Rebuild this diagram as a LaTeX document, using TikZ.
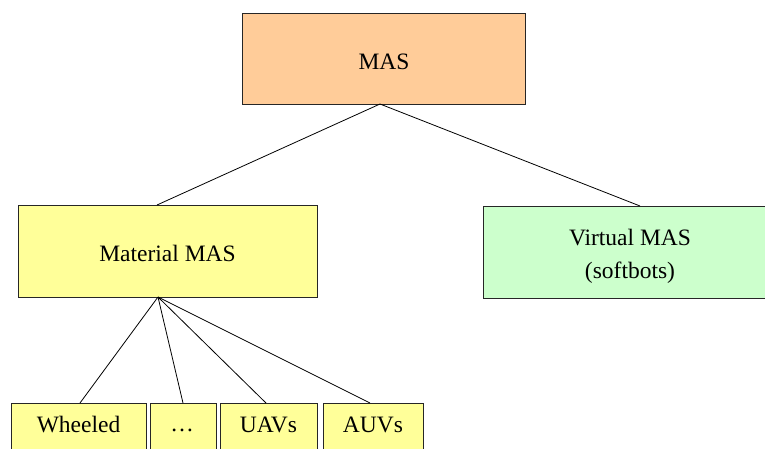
\documentclass[tikz,border=0pt]{standalone}
\usepackage{fontspec}
\setmainfont{Liberation Serif}
\begin{document}
\begin{tikzpicture}[x=1pt,y=-1pt,
  box/.style={draw=black!85,line width=0.9pt,inner sep=0pt},
  txt/.style={font=\fontsize{23.5}{28}\selectfont,align=center},
  link/.style={draw=black,line width=0.8pt}]
\definecolor{masfill}{HTML}{FFCC99}
\definecolor{matfill}{HTML}{FFFF99}
\definecolor{virtfill}{HTML}{CCFFCC}
\useasboundingbox (0,0) rectangle (765,448);
\clip (0,0) rectangle (765,448);
% boxes
\draw[box,fill=masfill] (242,13) rectangle (525,104);
\draw[box,fill=matfill] (18,205) rectangle (317,297);
\draw[box,fill=virtfill] (483,206) rectangle (767,298);
\draw[box,fill=matfill] (11,403) rectangle (146,470);
\draw[box,fill=matfill] (150,403) rectangle (216,470);
\draw[box,fill=matfill] (220,403) rectangle (317,470);
\draw[box,fill=matfill] (323,403) rectangle (423,470);
% labels
\node[txt] (mas) at (384,62) {MAS};
\node[txt] (mat) at (167.5,253) {Material MAS};
\node[txt] (virt1) at (630,238) {Virtual MAS};
\node[txt] (virt2) at (630,273) {(softbots)};
\node[txt] (wh) at (78.5,425) {Wheeled};
\node[txt,anchor=base] (dots) at (182,431) {…};
\node[txt] (uav) at (268.5,425) {UAVs};
\node[txt] (auv) at (373,425) {AUVs};
% anchor points on box edges
\coordinate (masB) at (380,104);
\coordinate (matT) at (157,205);
\coordinate (virtT) at (640,206);
\coordinate (matB) at (158,297);
\coordinate (whT) at (80,403);
\coordinate (dotsT) at (183,403);
\coordinate (uavT) at (266,403);
\coordinate (auvT) at (370,403);
% connectors
\draw[link] (masB) -- (matT);
\draw[link] (masB) -- (virtT);
\draw[link] (matB) -- (whT);
\draw[link] (matB) -- (dotsT);
\draw[link] (matB) -- (uavT);
\draw[link] (matB) -- (auvT);
\end{tikzpicture}
\end{document}
